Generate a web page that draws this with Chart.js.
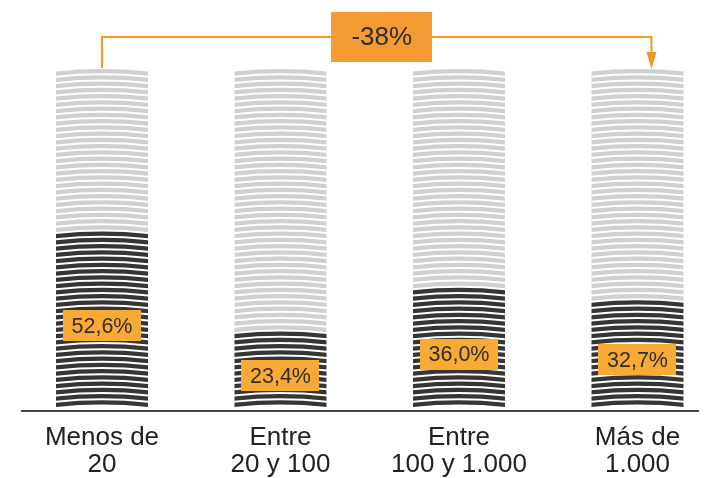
<!DOCTYPE html>
<html>
<head>
<meta charset="utf-8">
<script src="https://cdn.jsdelivr.net/npm/chart.js@4/dist/chart.umd.min.js"></script>
<style>
  html, body { margin: 0; padding: 0; background: #fff; }
  #wrap { width: 721px; height: 478px; position: relative; }
</style>
</head>
<body>
<div id="wrap"><canvas id="c" width="721" height="478"></canvas></div>
<script>
// Company size groups (number of employees) and the share of each stack
const categories = [["Menos de", "20"], ["Entre", "20 y 100"], ["Entre", "100 y 1.000"], ["Más de", "1.000"]];
const sharePct = [52.6, 23.4, 36.0, 32.7];
const totalPct = [100, 100, 100, 100];
const shareLabels = ["52,6%", "23,4%", "36,0%", "32,7%"];
const changeLabel = "-38%";
const changeFrom = 0;
const changeTo = 3;

const FONT = "'Liberation Sans', Arial, Helvetica, sans-serif";
const DARK = '#363636';
const LIGHT = '#d0d0d0';
const ORANGE_LINE = '#f6961f';
const ORANGE_BOX = '#f59b34';
const ORANGE_TAG = '#f9aa34';
const STRIPE_PERIOD = 6.25;
const STRIPE_WIDTH = 4.2;
const STRIPE_ARCH = 2.5;
const STRIPE_GAP = 5.5;

const remainderPct = totalPct.map((t, i) => t - sharePct[i]);

// Bars are painted as stacks of slightly arched stripes, like a pile of coins
const stripePlugin = {
  id: 'stripes',
  afterDatasetsDraw(chart) {
    const ctx = chart.ctx;
    const base = chart.scales.y.getPixelForValue(0);
    const areaTop = chart.chartArea.top;
    chart.data.datasets.forEach((ds, di) => {
      const meta = chart.getDatasetMeta(di);
      meta.data.forEach(bar => {
        const p = bar.getProps(['x', 'y', 'base', 'width'], true);
        const top = Math.min(p.y, p.base);
        const bot = Math.max(p.y, p.base);
        const left = p.x - p.width / 2;
        const right = p.x + p.width / 2;
        ctx.save();
        ctx.beginPath();
        ctx.rect(left, 0, p.width, chart.height);
        ctx.clip();
        ctx.strokeStyle = ds.stripeColor;
        ctx.lineWidth = STRIPE_WIDTH;
        for (let k = 0; ; k++) {
          const yc = base - STRIPE_GAP - (k + 0.5) * STRIPE_PERIOD;
          if (yc < areaTop - 1) break;
          if (yc <= bot + 0.01 && yc > top) {
            ctx.beginPath();
            ctx.moveTo(left - 1, yc + STRIPE_ARCH);
            ctx.quadraticCurveTo(p.x, yc - STRIPE_ARCH, right + 1, yc + STRIPE_ARCH);
            ctx.stroke();
          }
        }
        ctx.restore();
      });
    });
  }
};

// Orange value tags on the dark part of each stack, plus the change bracket on top
const annotationPlugin = {
  id: 'annotations',
  afterDraw(chart) {
    const ctx = chart.ctx;
    const xs = chart.scales.x;
    const ys = chart.scales.y;

    // value tags
    const meta = chart.getDatasetMeta(0);
    meta.data.forEach((bar, i) => {
      const p = bar.getProps(['x', 'y', 'base'], true);
      const cy = (p.y + p.base) / 2 + 5;
      const w = 78, h = 31;
      ctx.fillStyle = ORANGE_TAG;
      ctx.fillRect(Math.round(p.x - w / 2), Math.round(cy - h / 2), w, h);
      ctx.fillStyle = '#2e2e2e';
      ctx.font = '21.5px ' + FONT;
      ctx.textAlign = 'center';
      ctx.textBaseline = 'middle';
      ctx.fillText(shareLabels[i], p.x, cy + 1);
    });

    // change bracket
    const x0 = xs.getPixelForValue(changeFrom);
    const x1 = xs.getPixelForValue(changeTo) + 14;
    const yTop = ys.getPixelForValue(100);
    const yLine = 37;
    ctx.strokeStyle = ORANGE_LINE;
    ctx.lineWidth = 2;
    ctx.beginPath();
    ctx.moveTo(x0, yTop);
    ctx.lineTo(x0, yLine);
    ctx.lineTo(x1, yLine);
    ctx.lineTo(x1, yTop - 12);
    ctx.stroke();
    ctx.fillStyle = ORANGE_LINE;
    ctx.beginPath();
    ctx.moveTo(x1 - 5, yTop - 16);
    ctx.lineTo(x1 + 5, yTop - 16);
    ctx.lineTo(x1, yTop + 1);
    ctx.closePath();
    ctx.fill();

    const bx = (x0 + x1) / 2 + 5;
    const bw = 101, bh = 50;
    ctx.fillStyle = ORANGE_BOX;
    ctx.fillRect(Math.round(bx - bw / 2), Math.round(yLine - bh / 2), bw, bh);
    ctx.fillStyle = '#2e2e2e';
    ctx.font = '26px ' + FONT;
    ctx.textAlign = 'center';
    ctx.textBaseline = 'middle';
    ctx.fillText(changeLabel, bx, yLine + 1);
  }
};

new Chart(document.getElementById('c'), {
  type: 'bar',
  data: {
    datasets: [
      {
        label: 'share',
        data: sharePct.map((v, i) => ({ x: i, y: v })),
        backgroundColor: 'rgba(0,0,0,0)',
        stripeColor: DARK,
        barThickness: 92
      },
      {
        label: 'rest',
        data: remainderPct.map((v, i) => ({ x: i, y: v })),
        backgroundColor: 'rgba(0,0,0,0)',
        stripeColor: LIGHT,
        barThickness: 92
      }
    ]
  },
  options: {
    responsive: false,
    animation: false,
    devicePixelRatio: 1,
    layout: { padding: { top: 68, left: 22, right: 23, bottom: 0 } },
    plugins: { legend: { display: false }, tooltip: { enabled: false } },
    scales: {
      x: {
        type: 'linear',
        stacked: true,
        offset: false,
        min: -0.448,
        max: 3.339,
        grid: { display: false, drawTicks: false, offset: false },
        border: { display: true, color: '#454545', width: 2 },
        afterBuildTicks(scale) {
          scale.ticks = categories.map((_, i) => ({ value: i }));
        },
        afterFit(scale) { scale.height = 67; },
        ticks: {
          autoSkip: false,
          maxRotation: 0,
          padding: 13,
          color: '#222',
          font: { family: FONT, size: 26, lineHeight: 1.05 },
          callback: (v) => categories[v]
        }
      },
      y: {
        stacked: true,
        min: 0,
        max: 100,
        display: false
      }
    }
  },
  plugins: [stripePlugin, annotationPlugin]
});
</script>
</body>
</html>
